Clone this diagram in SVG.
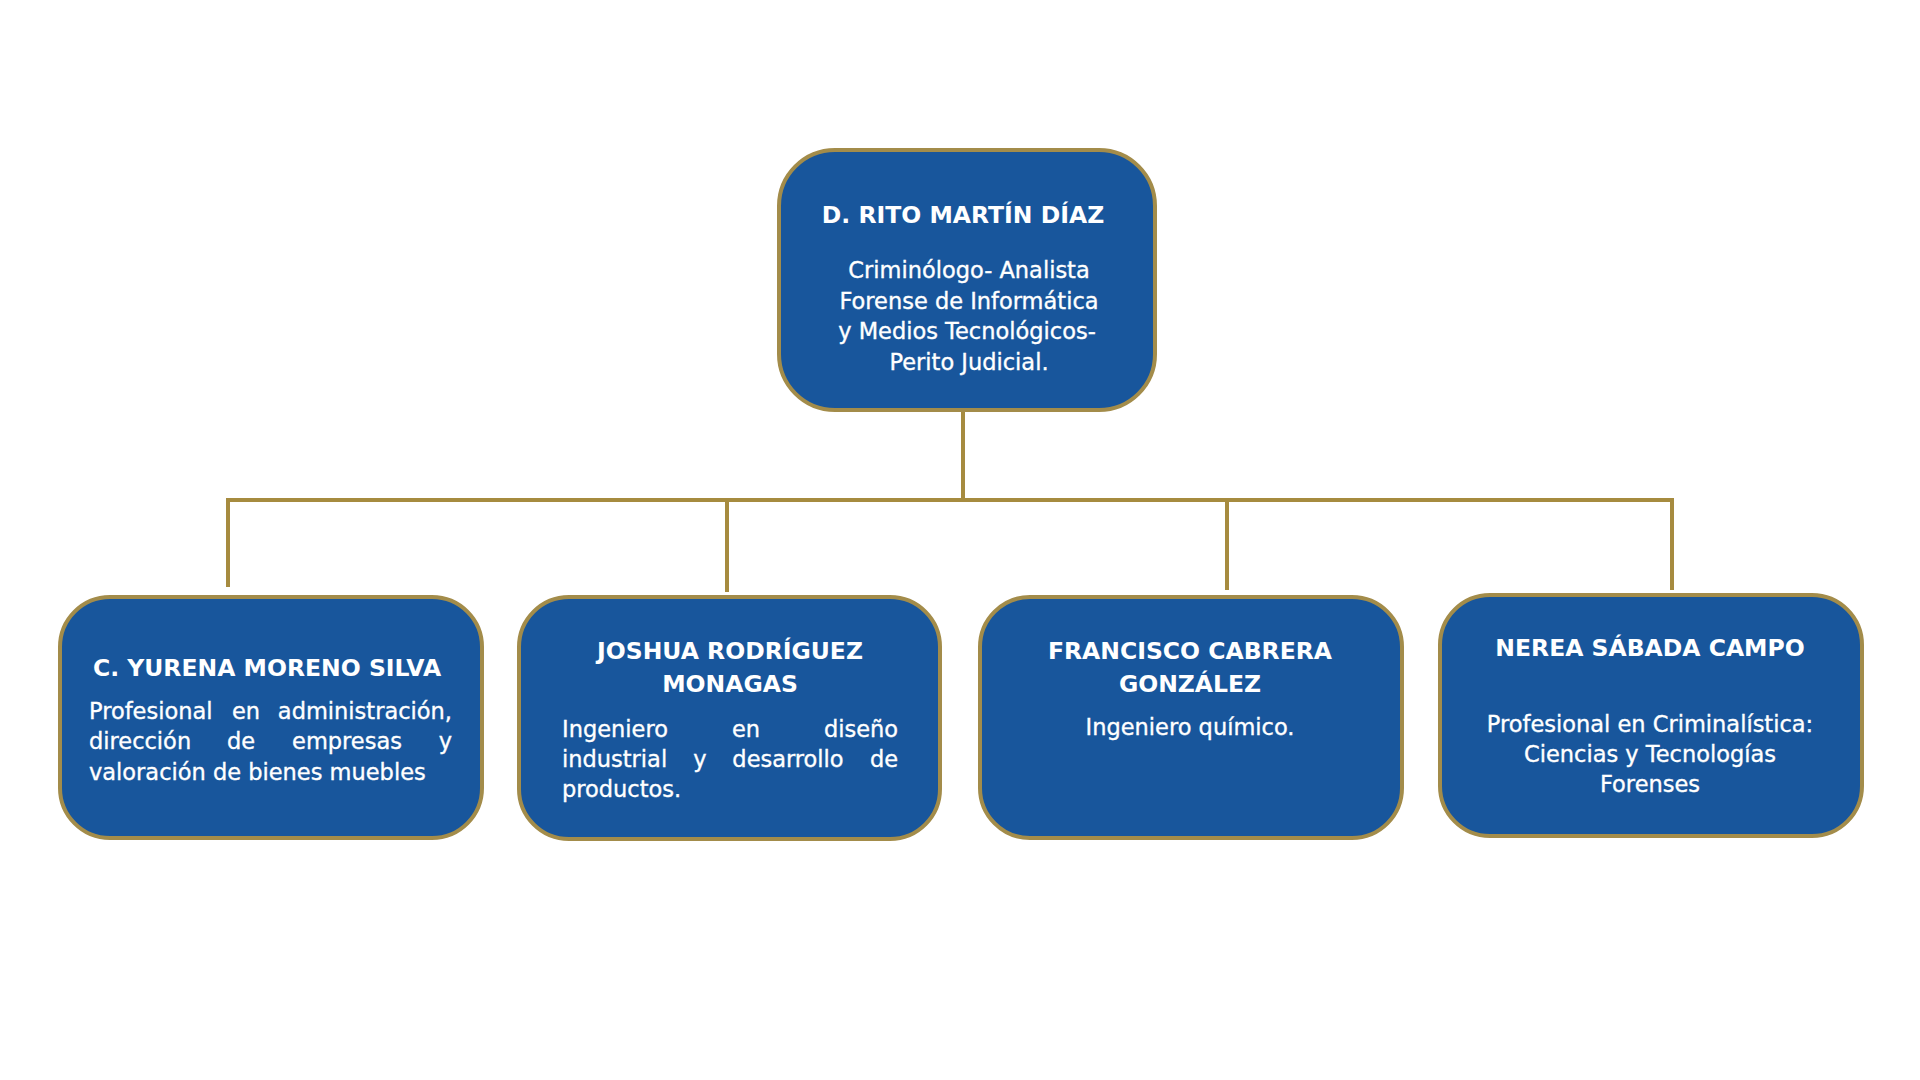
<svg xmlns="http://www.w3.org/2000/svg" width="1920" height="1080" viewBox="0 0 1920 1080">
<style>
.box{fill:#18569C;stroke:#A38C4A;stroke-width:4}
.conn{stroke:#A68B3F;stroke-width:4;fill:none;stroke-linecap:square}
.t{font-family:"DejaVu Sans",Verdana,sans-serif;font-weight:bold;font-size:23.5px;fill:#FFFFFF;text-anchor:middle}
.b{font-family:"DejaVu Sans",Verdana,sans-serif;font-size:22.5px;fill:#FFFFFF;stroke:#FFFFFF;stroke-width:0.35}
.c{text-anchor:middle}
</style>
<rect width="1920" height="1080" fill="#FFFFFF"/>
<g id="connectors">
<line class="conn" x1="963" y1="411" x2="963" y2="500"/>
<line class="conn" x1="228" y1="500" x2="1672" y2="500"/>
<line class="conn" x1="228" y1="500" x2="228" y2="585"/>
<line class="conn" x1="727" y1="500" x2="727" y2="590"/>
<line class="conn" x1="1227" y1="500" x2="1227" y2="588"/>
<line class="conn" x1="1672" y1="500" x2="1672" y2="588"/>
</g>
<g id="node-rito">
<rect class="box" x="779" y="150" width="376" height="260" rx="56" ry="56"/>
<text class="t" x="963" y="223">D. RITO MARTÍN DÍAZ</text>
<text class="b c" x="969" y="278">Criminólogo- Analista</text>
<text class="b c" x="969" y="309">Forense de Informática</text>
<text class="b c" x="967" y="339">y Medios Tecnológicos-</text>
<text class="b c" x="969" y="370">Perito Judicial.</text>
</g>
<g id="node-yurena">
<rect class="box" x="60" y="597" width="422" height="241" rx="50" ry="50"/>
<text class="t" x="267" y="676">C. YURENA MORENO SILVA</text>
<text class="b" y="719"><tspan x="89">Profesional</tspan><tspan x="246" text-anchor="middle">en</tspan><tspan x="452" text-anchor="end">administración,</tspan></text>
<text class="b" y="749"><tspan x="89">dirección</tspan><tspan x="241" text-anchor="middle">de</tspan><tspan x="347" text-anchor="middle">empresas</tspan><tspan x="452" text-anchor="end">y</tspan></text>
<text class="b" x="89" y="780">valoración de bienes muebles</text>
</g>
<g id="node-joshua">
<rect class="box" x="519" y="597" width="421" height="242" rx="50" ry="50"/>
<text class="t" x="730" y="659">JOSHUA RODRÍGUEZ</text>
<text class="t" x="730" y="692">MONAGAS</text>
<text class="b" y="737"><tspan x="562">Ingeniero</tspan><tspan x="746" text-anchor="middle">en</tspan><tspan x="898" text-anchor="end">diseño</tspan></text>
<text class="b" y="767"><tspan x="562">industrial</tspan><tspan x="700" text-anchor="middle">y</tspan><tspan x="788" text-anchor="middle">desarrollo</tspan><tspan x="898" text-anchor="end">de</tspan></text>
<text class="b" x="562" y="797">productos.</text>
</g>
<g id="node-francisco">
<rect class="box" x="980" y="597" width="422" height="241" rx="50" ry="50"/>
<text class="t" x="1190" y="659">FRANCISCO CABRERA</text>
<text class="t" x="1190" y="692">GONZÁLEZ</text>
<text class="b c" x="1190" y="735">Ingeniero químico.</text>
</g>
<g id="node-nerea">
<rect class="box" x="1440" y="595" width="422" height="241" rx="50" ry="50"/>
<text class="t" x="1650" y="656">NEREA SÁBADA CAMPO</text>
<text class="b c" x="1650" y="732">Profesional en Criminalística:</text>
<text class="b c" x="1650" y="762">Ciencias y Tecnologías</text>
<text class="b c" x="1650" y="792">Forenses</text>
</g>
</svg>
